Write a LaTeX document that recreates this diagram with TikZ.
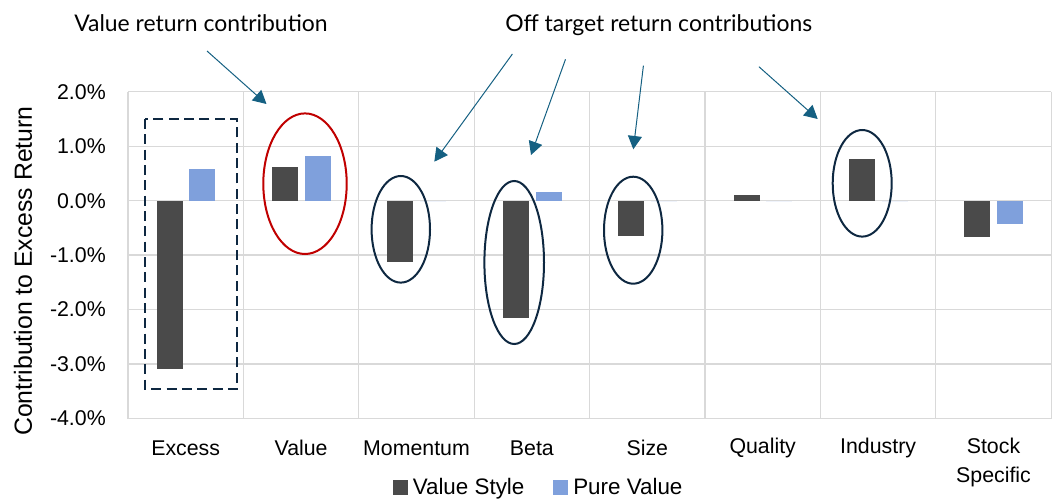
\documentclass[tikz,border=0pt]{standalone}
\usepackage{fontspec}
\setmainfont{Liberation Sans}
\newfontfamily\latofont{Lato}
\usepackage{tikz}
\usetikzlibrary{arrows.meta}
\definecolor{gridgray}{HTML}{D9D9D9}
\definecolor{vsgray}{HTML}{4A4A4A}
\definecolor{pvblue}{HTML}{7FA0DC}
\definecolor{navy}{HTML}{0E2841}
\definecolor{arrowblue}{HTML}{156082}
\definecolor{ringred}{HTML}{C00000}
\tikzstyle{grid} = [draw=gridgray, line width=1pt]
\tikzstyle{valstyle} = [fill=vsgray]
\tikzstyle{pureval} = [fill=pvblue]
\tikzstyle{tick} = [anchor=east, inner sep=0pt, font=\fontsize{16}{19}\selectfont]
\tikzstyle{cat} = [align=center, inner sep=0pt, font=\fontsize{16}{21.5}\selectfont]
\tikzstyle{legendtext} = [anchor=base west, inner sep=0pt, font=\fontsize{16.8}{19}\selectfont]
\tikzstyle{ring} = [draw=navy, line width=1.5pt]
\tikzstyle{note} = [anchor=base west, inner sep=0pt, font=\latofont\fontsize{17.2}{20}\selectfont]
\tikzstyle{pointer} = [draw=arrowblue, line width=0.75pt, -{Triangle[length=10pt,width=10.5pt]}]

\begin{document}
\begin{tikzpicture}[x=0.75pt,y=-0.75pt]
\useasboundingbox (0,0) rectangle (1053,500);
% grid
\foreach \v in {2,1,0,-1,-2,-3,-4}
  \draw[grid] (128,{200.7-54.45*\v}) -- (1051,{200.7-54.45*\v});
\foreach \i in {0,...,8}
  \draw[grid] ({128+115.4*\i},91.8) -- ({128+115.4*\i},418.5);
% bars
\foreach \i/\vs/\pv in {0/-3.09/0.58,1/0.61/0.83,2/-1.12/0,3/-2.16/0.16,4/-0.65/0,5/0.10/0,6/0.77/0,7/-0.66/-0.42}{
  \fill[valstyle] ({128+115.4*\i+28.5},200.7) rectangle ({128+115.4*\i+54.5},{200.7-54.45*\vs});
  \fill[pureval] ({128+115.4*\i+61.3},200.7) rectangle ({128+115.4*\i+87.3},{200.7-54.45*\pv});
}
% tick labels
\node[tick] (t2) at (106,91.8) {2.0\%};
\node[tick] (t1) at (106,146.3) {1.0\%};
\node[tick] (t0) at (106,200.7) {0.0\%};
\node[tick] (tm1) at (106,255.2) {-1.0\%};
\node[tick] (tm2) at (106,309.6) {-2.0\%};
\node[tick] (tm3) at (106,364.1) {-3.0\%};
\node[tick] (tm4) at (106,418.5) {-4.0\%};
\node[rotate=90, inner sep=0pt, font=\fontsize{18.6}{21}\selectfont] (ylab) at (23,271) {Contribution to Excess Return};
% categories
\node[cat] (excess) at (185.7,448) {Excess};
\node[cat] (value) at (301.1,448) {Value};
\node[cat] (mom) at (416.5,448) {Momentum};
\node[cat] (beta) at (531.9,448) {Beta};
\node[cat] (size) at (647.3,448) {Size};
\node[cat] (qual) at (762.7,448) {Quality};
\node[cat] (ind) at (878.1,448) {Industry};
\node[cat] (spec) at (993.5,462.3) {Stock\\Specific};
% legend
\fill[valstyle] (393.3,480) rectangle (408.3,495);
\node[legendtext] (lvs) at (412.5,494.5) {Value Style};
\fill[pureval] (553.3,480) rectangle (568.3,495);
\node[legendtext] (lpv) at (573,494.5) {Pure Value};
% highlights
\draw[navy, line width=1.5pt, dash pattern=on 7.5pt off 4pt] (145.3,119) rectangle (237,389);
\draw[ringred, line width=1.5pt] (305,183.7) ellipse [x radius=41.7, y radius=70.3];
\draw[ring] (400.8,229.3) ellipse [x radius=29.2, y radius=53.3];
\draw[ring] (514.2,262.5) ellipse [x radius=29.8, y radius=81.5];
\draw[ring] (633.2,230.2) ellipse [x radius=29.2, y radius=53.5];
\draw[ring] (862.2,183.3) ellipse [x radius=29.5, y radius=53.3];
% annotations
\node[note] (valnote) at (74,31) {Value return contribution};
\node[note] (offnote) at (505,31) {Off target return contributions};
\coordinate (va) at (207,51);
\coordinate (vb) at (266.5,104);
\coordinate (oa1) at (512.4,54);
\coordinate (ob1) at (434.3,161.7);
\coordinate (oa2) at (565.5,59.3);
\coordinate (ob2) at (531,155);
\coordinate (oa3) at (643.4,65.7);
\coordinate (ob3) at (633.3,149.3);
\coordinate (oa4) at (758.9,66.7);
\coordinate (ob4) at (817.7,119);
\draw[pointer] (va) -- (vb);
\draw[pointer] (oa1) -- (ob1);
\draw[pointer] (oa2) -- (ob2);
\draw[pointer] (oa3) -- (ob3);
\draw[pointer] (oa4) -- (ob4);
\end{tikzpicture}
\end{document}
